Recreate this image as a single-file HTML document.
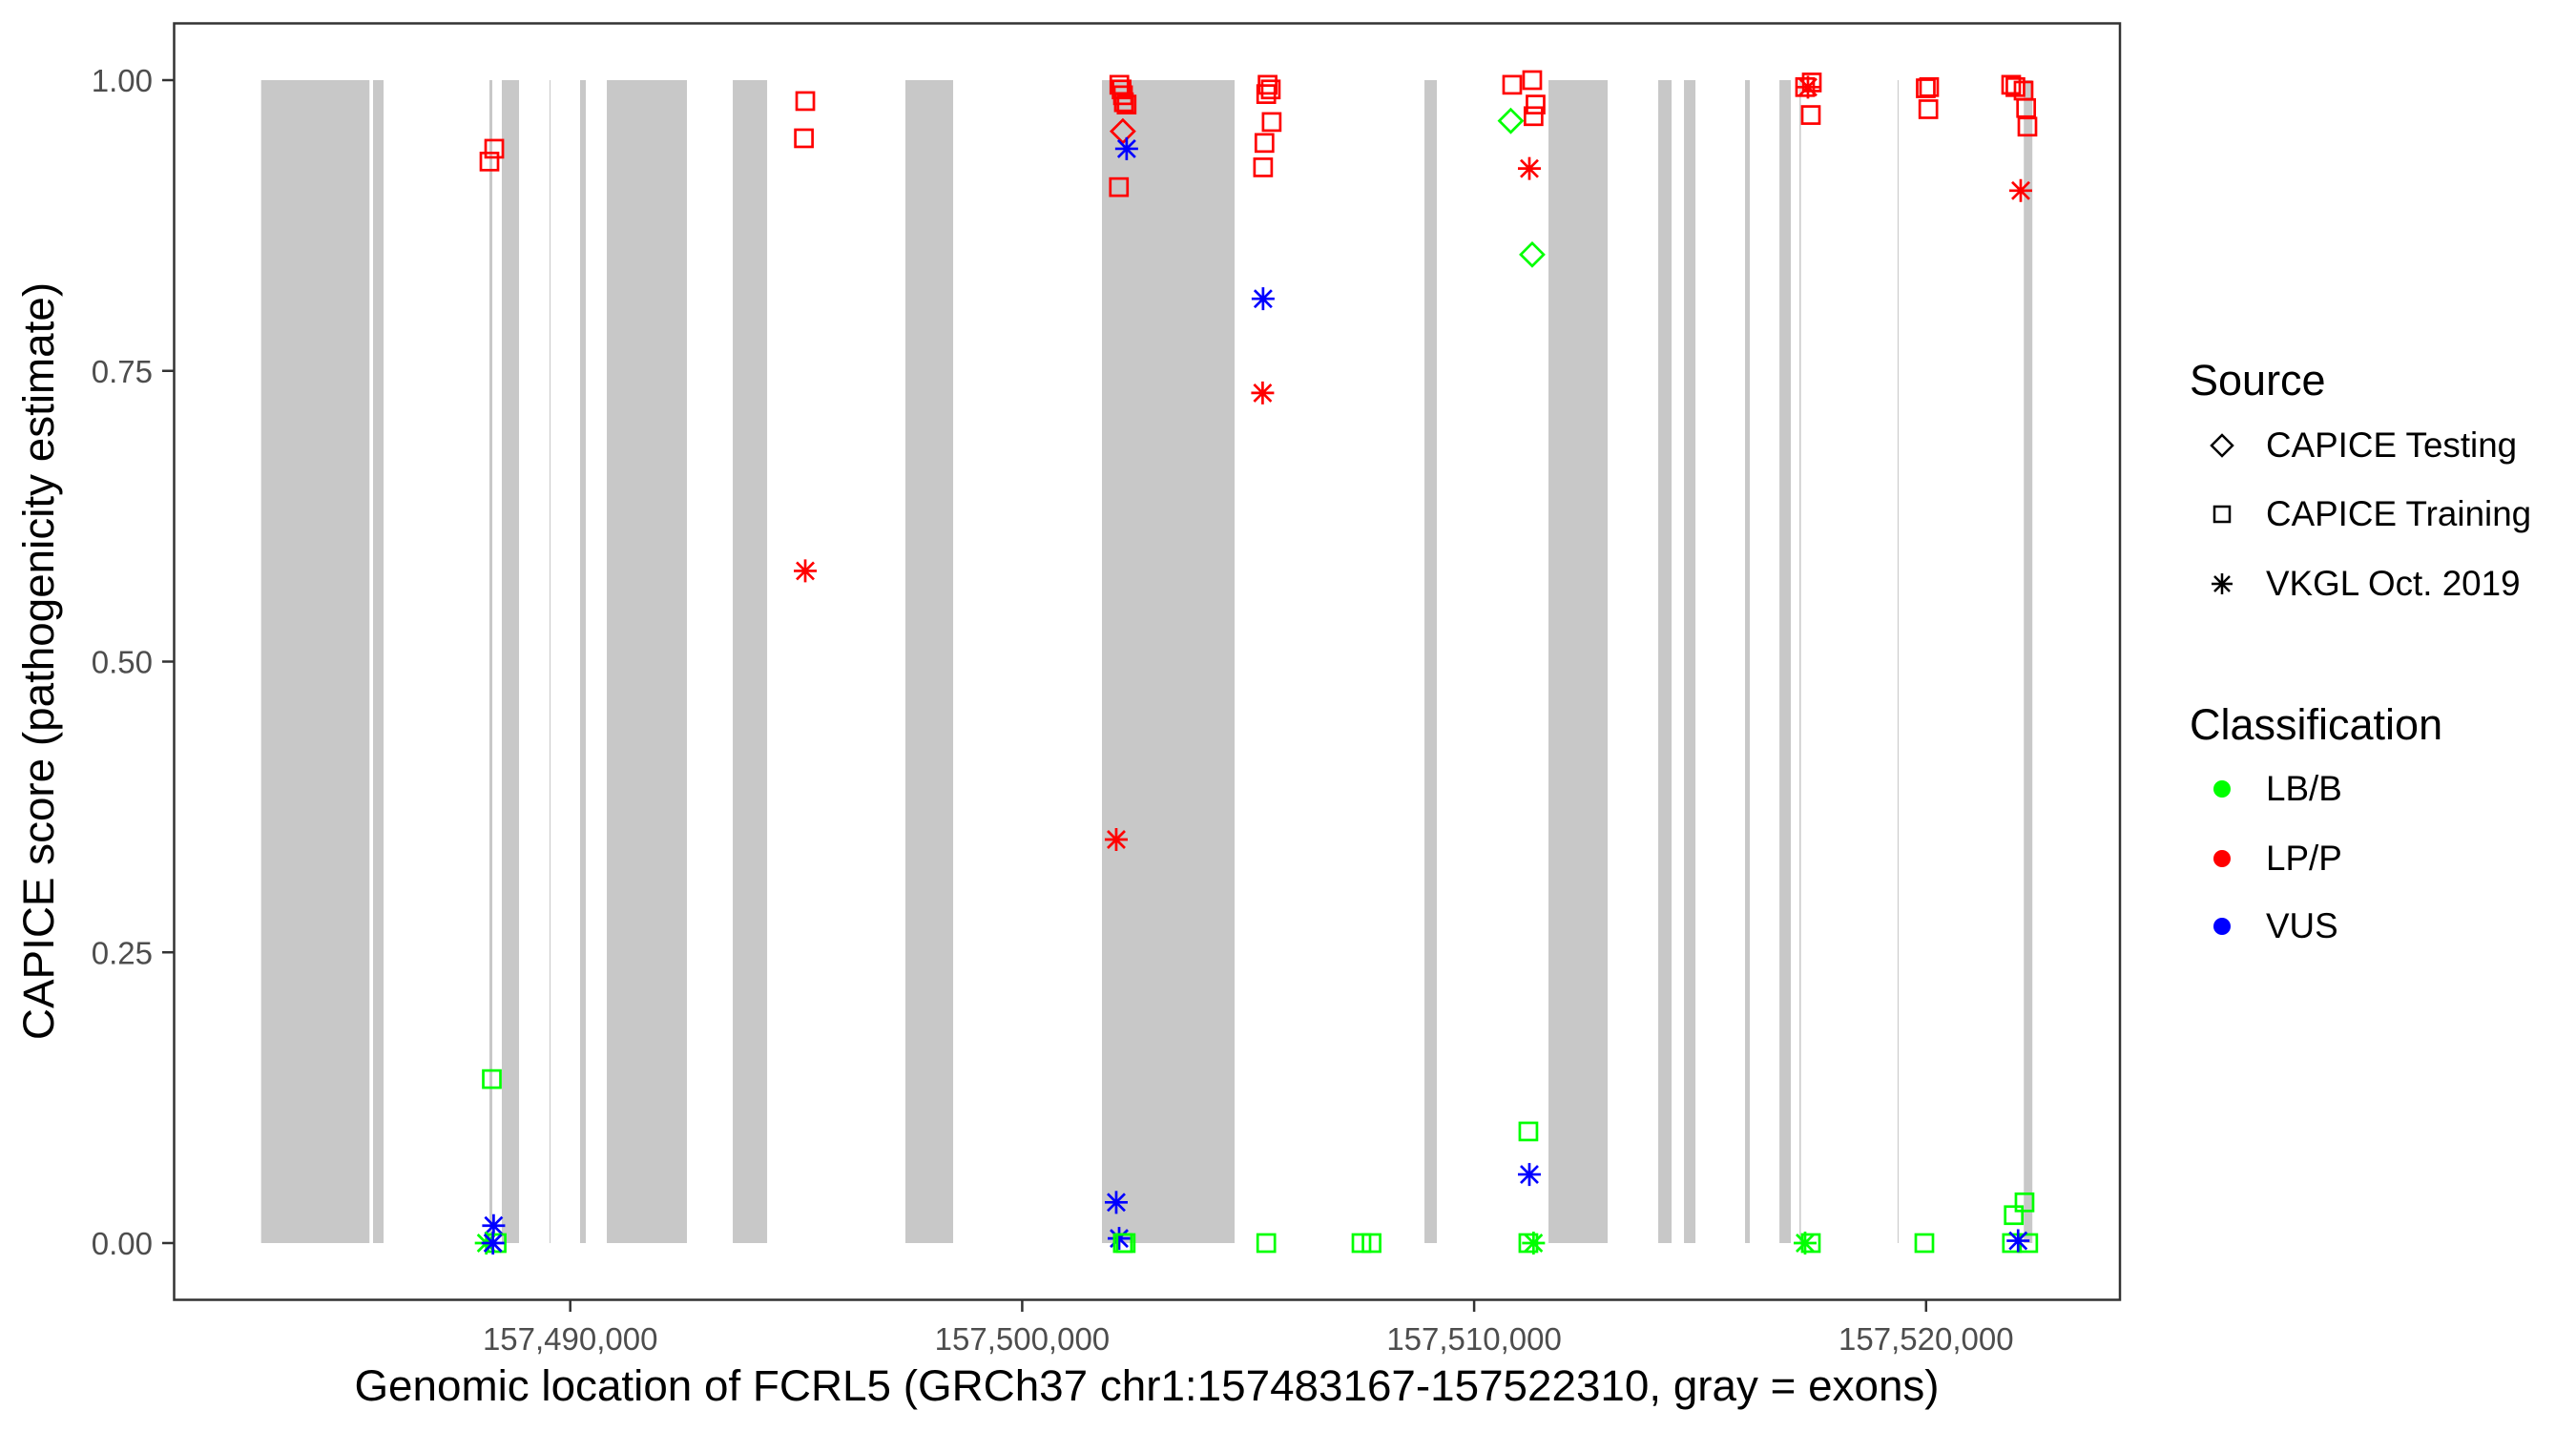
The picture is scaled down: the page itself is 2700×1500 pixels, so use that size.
<!DOCTYPE html>
<html><head><meta charset="utf-8"><style>
html,body{margin:0;padding:0;background:#fff;}
svg{display:block;font-family:"Liberation Sans",sans-serif;}
</style></head><body>
<svg id="chart" width="2700" height="1500" viewBox="0 0 2700 1500">
<rect x="0" y="0" width="2700" height="1500" fill="#fff"/>
<g id="exons"></g>
<g id="points"></g>
<rect x="182.5" y="24.5" width="2039.5" height="1338" fill="none" stroke="#333" stroke-width="2.5"/>
<g id="axes"></g>
<text x="1202" y="1468" font-size="45.8" text-anchor="middle" fill="#000">Genomic location of FCRL5 (GRCh37 chr1:157483167-157522310, gray = exons)</text>
<text transform="translate(56,693) rotate(-90)" font-size="45.8" text-anchor="middle" fill="#000">CAPICE score (pathogenicity estimate)</text>
<g id="legend">
<text x="2295" y="414" font-size="45" fill="#000">Source</text>
<g>
<path d="M2329,456 L2340,467 L2329,478 L2318,467 Z" fill="none" stroke="#000" stroke-width="2.5"/>
<text x="2375" y="479" font-size="36.8" fill="#000">CAPICE Testing</text></g>
<g>
<rect x="2321" y="531" width="16" height="16" fill="none" stroke="#000" stroke-width="2.5"/>
<text x="2375" y="551" font-size="36.8" fill="#000">CAPICE Training</text></g>
<g>
<path d="M2318,612 L2340,612 M2329,601 L2329,623 M2321,604 L2337,620 M2337,604 L2321,620" stroke="#000" stroke-width="2.5"/>
<text x="2375" y="624" font-size="36.8" fill="#000">VKGL Oct. 2019</text></g>
<text x="2295" y="775" font-size="45" fill="#000">Classification</text>
<g><circle cx="2329" cy="827" r="9" fill="#00ff00"/><text x="2375" y="839" font-size="36.8" fill="#000">LB/B</text></g>
<g><circle cx="2329" cy="900" r="9" fill="#ff0000"/><text x="2375" y="912" font-size="36.8" fill="#000">LP/P</text></g>
<g><circle cx="2329" cy="971" r="9" fill="#0000ff"/><text x="2375" y="983" font-size="36.8" fill="#000">VUS</text></g>
</g>
</svg>
<script>
const exonStarts = [157483160,157485636,157488212,157488486,157489542,157490217,157490809,157493596,157497416,157501765,157508901,157511645,157514073,157514643,157515994,157516755,157517198,157519370,157522162];
const exonEnds   = [157485558,157485869,157488275,157488867,157489563,157490344,157492582,157494356,157498472,157504700,157509175,157512954,157514369,157514897,157516100,157517008,157517230,157519391,157522352];
const xTicks = [157490000,157500000,157510000,157520000];
const xTickLabels = ["157,490,000","157,500,000","157,510,000","157,520,000"];
const yTicks = [0,0.25,0.5,0.75,1];
const yTickLabels = ["0.00","0.25","0.50","0.75","1.00"];
const pointPos = [
157488212,157488318,157488265,157488305,157488142,157488372,157488290,
157495200,157495170,157495200,
157502081,157502150,157502200,157502230,157502250,157502310,157502140,157502227,157502311,157502081,157502145,157502227,157502290,
157505430,157505500,157505400,157505520,157505360,157505330,157505330,157505320,157505400,
157507507,157507730,
157510842,157511285,157511359,157511314,157510810,157511285,157511222,157511200,157511222,157511200,157511314,
157517323,157517471,157517386,157517450,157517323,157517450,
157519993,157520067,157520050,157519962,
157521883,157521977,157522157,157522214,157522242,157522094,157522178,157521940,157521900,157522260,157522036];
const pointScore = [
0.930,0.941,0.141,0.015,0,0,0,
0.982,0.950,0.578,
0.347,0.996,0.992,0.987,0.981,0.979,0.908,0.956,0.941,0.035,0.004,0,0,
0.996,0.992,0.988,0.964,0.946,0.925,0.812,0.731,0,
0,0,
0.996,1.0,0.979,0.969,0.965,0.850,0.924,0.096,0.059,0,0,
0.994,0.998,0.994,0.970,0,0,
0.993,0.994,0.975,0,
0.996,0.994,0.991,0.976,0.960,0.905,0.035,0.024,0,0,0.002];
const pointSource = [
"train","train","train","vkgl","vkgl","train","vkgl",
"train","train","vkgl",
"vkgl","train","train","train","train","train","train","test","vkgl","vkgl","vkgl","train","train",
"train","train","train","train","train","train","vkgl","vkgl","train",
"train","train",
"train","train","train","train","test","test","vkgl","train","vkgl","train","vkgl",
"train","train","vkgl","train","vkgl","train",
"train","train","train","train",
"train","train","train","train","train","vkgl","train","train","train","train","vkgl"];
const pointClass = [
"LP","LP","LB","VUS","LB","LB","VUS",
"LP","LP","LP",
"LP","LP","LP","LP","LP","LP","LP","LP","VUS","VUS","VUS","LB","LB",
"LP","LP","LP","LP","LP","LP","VUS","LP","LB",
"LB","LB",
"LP","LP","LP","LP","LB","LB","LP","LB","VUS","LB","LB",
"LP","LP","LP","LP","LB","LB",
"LP","LP","LP","LB",
"LP","LP","LP","LP","LP","LP","LB","LB","LB","LB","VUS"];
const colors = {LB:"#00ff00", LP:"#ff0000", VUS:"#0000ff"};
const NS="http://www.w3.org/2000/svg";
function xs(v){return 597.7+(v-157490000)*0.04737;}
function ys(v){return 1303-v*1219;}
const ex=document.getElementById('exons');
for(let i=0;i<exonStarts.length;i++){
  const r=document.createElementNS(NS,'rect');
  r.setAttribute('x',xs(exonStarts[i]));
  r.setAttribute('width',Math.max(1,xs(exonEnds[i])-xs(exonStarts[i])));
  r.setAttribute('y',ys(1));r.setAttribute('height',ys(0)-ys(1));
  r.setAttribute('fill','#c8c8c8');
  
  
  ex.appendChild(r);
}
const ax=document.getElementById('axes');
for(let i=0;i<xTicks.length;i++){
  const x=xs(xTicks[i]);
  const l=document.createElementNS(NS,'line');
  l.setAttribute('x1',x);l.setAttribute('x2',x);l.setAttribute('y1',1363);l.setAttribute('y2',1375);
  l.setAttribute('stroke','#333');l.setAttribute('stroke-width','2.5');
  
  
  ax.appendChild(l);
  const t=document.createElementNS(NS,'text');
  t.setAttribute('x',x);t.setAttribute('y',1415);t.setAttribute('font-size','33');
  t.setAttribute('text-anchor','middle');t.setAttribute('fill','#4d4d4d');
  t.textContent=xTickLabels[i];
  
  
  ax.appendChild(t);
}
for(let i=0;i<yTicks.length;i++){
  const y=ys(yTicks[i]);
  const l=document.createElementNS(NS,'line');
  l.setAttribute('x1',170);l.setAttribute('x2',182);l.setAttribute('y1',y);l.setAttribute('y2',y);
  l.setAttribute('stroke','#333');l.setAttribute('stroke-width','2.5');
  
  
  ax.appendChild(l);
  const t=document.createElementNS(NS,'text');
  t.setAttribute('x',160);t.setAttribute('y',y+12);t.setAttribute('font-size','33');
  t.setAttribute('text-anchor','end');t.setAttribute('fill','#4d4d4d');
  t.textContent=yTickLabels[i];
  
  
  ax.appendChild(t);
}
const pg=document.getElementById('points');
for(let i=0;i<pointPos.length;i++){
  const x=xs(pointPos[i]), y=ys(pointScore[i]), c=colors[pointClass[i]];
  let el;
  if(pointSource[i]==='train'){
    el=document.createElementNS(NS,'rect');
    el.setAttribute('x',x-9);el.setAttribute('y',y-9);el.setAttribute('width',18);el.setAttribute('height',18);
    el.setAttribute('fill','none');
  } else if(pointSource[i]==='test'){
    el=document.createElementNS(NS,'path');
    el.setAttribute('d',`M${x},${y-12} L${x+12},${y} L${x},${y+12} L${x-12},${y} Z`);
    el.setAttribute('fill','none');
  } else {
    el=document.createElementNS(NS,'path');
    el.setAttribute('d',`M${x-12},${y} L${x+12},${y} M${x},${y-12} L${x},${y+12} M${x-9},${y-9} L${x+9},${y+9} M${x+9},${y-9} L${x-9},${y+9}`);
  }
  el.setAttribute('stroke',c);el.setAttribute('stroke-width','2.7');
  
  
  pg.appendChild(el);
}
</script>
</body></html>
